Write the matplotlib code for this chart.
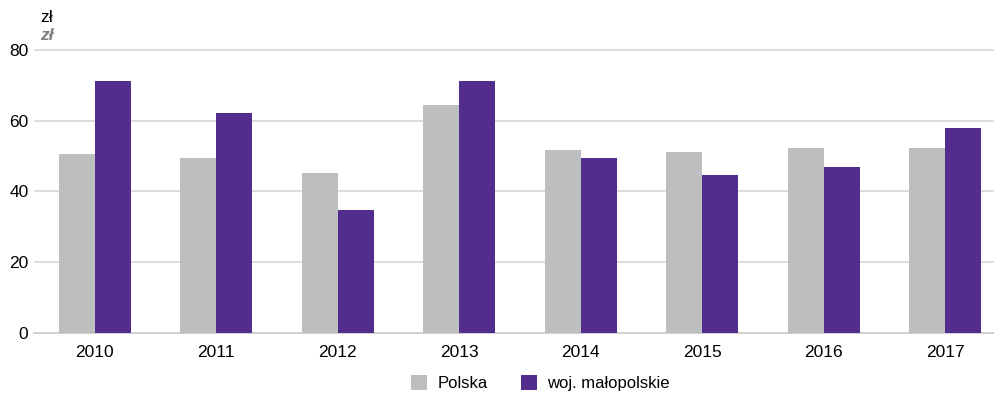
import matplotlib
matplotlib.use("Agg")
import matplotlib.pyplot as plt
import numpy as np

years = ["2010", "2011", "2012", "2013", "2014", "2015", "2016", "2017"]
polska = [50.5, 49.3, 45.2, 64.5, 51.8, 51.2, 52.3, 52.3]
malopolskie = [71.1, 62.2, 34.8, 71.1, 49.4, 44.5, 46.9, 57.8]
series_names = ["Polska", "woj. małopolskie"]
yticks = [0, 20, 40, 60, 80]

plt.rcParams['font.family'] = ['Liberation Sans Narrow', 'Liberation Sans', 'DejaVu Sans']

fig = plt.figure(figsize=(9.95, 3.94), dpi=100)
ax = fig.add_axes([34/995, 0.1556, 1 - 34/995, 0.8777 - 0.1556])

x = np.arange(len(years))
w = 0.296
c_gray = "#BDBEC0"
c_purple = "#522D8C"
ax.bar(x - w/2, polska, w, color=c_gray, label=series_names[0], zorder=3)
ax.bar(x + w/2, malopolskie, w, color=c_purple, label=series_names[1], zorder=3)

ax.set_xlim(-0.5, 961/121.5 - 0.5)
ax.set_ylim(0, 80.5)
ax.set_yticks(yticks)
ax.set_xticks(x)
ax.set_xticklabels(years, fontsize=12.5)
ax.tick_params(axis='y', labelsize=12.5, length=0, pad=4)
ax.tick_params(axis='x', length=0, pad=9)
for t in yticks[1:]:
    ax.axhline(t, color="#D6D6D6", lw=1.2, zorder=1)
for s in ["top", "right", "left"]:
    ax.spines[s].set_visible(False)
ax.spines["bottom"].set_color("#CFCFCF")
ax.spines["bottom"].set_linewidth(1.4)

fig.text(40/995, 1 - 18/394, "zł", fontsize=12.5, va="center", ha="left", color="black")
fig.text(40/995, 1 - 35/394, "zł", fontsize=12.5, va="center", ha="left", color="#7F7F7F",
         style="italic", weight="bold")

fig.legend(loc="center", bbox_to_anchor=(0.543, 1 - 383/394), ncol=2, frameon=False,
           fontsize=12, handlelength=1.0, handleheight=1.0, columnspacing=2.0, handletextpad=0.6)

fig.savefig("out.png", dpi=100)
